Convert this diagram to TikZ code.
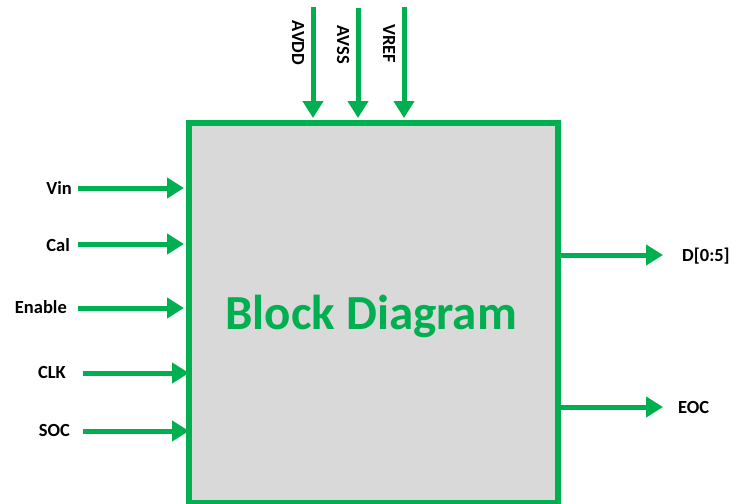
\documentclass[tikz,border=0pt]{standalone}
\usepackage{fontspec}
\setmainfont{Carlito}
\usetikzlibrary{arrows.meta}
\definecolor{ogreen}{HTML}{00B050}
\definecolor{ogray}{HTML}{D9D9D9}
\begin{document}
\begin{tikzpicture}[x=1pt,y=-1pt,
  sig/.style={draw=ogreen,line width=5pt,-{Triangle[length=17pt,width=20pt]}},
  lbl/.style={font=\fontsize{18.5}{20}\selectfont\bfseries,inner sep=0pt,text=black},
  vlbl/.style={lbl,rotate=-90}]
\useasboundingbox (0,0) rectangle (743,503);
\node[draw=ogreen,fill=ogray,line width=6pt,minimum width=369pt,minimum height=380pt,inner sep=0pt,anchor=north west] (blk) at (186,120) {};
\node[text=ogreen,font=\fontsize{49}{52}\selectfont\bfseries] (title) at (371,316) {Block Diagram};
% inputs
\node[lbl,anchor=east] (vin) at (72,188) {Vin};
\node[lbl,anchor=east] (cal) at (70,245) {Cal};
\node[lbl,anchor=east] (en) at (67,307) {Enable};
\node[lbl,anchor=east] (clk) at (66,372) {CLK};
\node[lbl,anchor=east] (soc) at (70,430) {SOC};
\coordinate (vinS) at (78,188); \coordinate (vinE) at (184,188);
\coordinate (calS) at (78,244); \coordinate (calE) at (184,244);
\coordinate (enS) at (78,308); \coordinate (enE) at (184,308);
\coordinate (clkS) at (83,373); \coordinate (clkE) at (189,373);
\coordinate (socS) at (83,431); \coordinate (socE) at (189,431);
\draw[sig] (vinS) -- (vinE);
\draw[sig] (calS) -- (calE);
\draw[sig] (enS) -- (enE);
\draw[sig] (clkS) -- (clkE);
\draw[sig] (socS) -- (socE);
% top
\coordinate (avddS) at (313,7); \coordinate (avddE) at (313,118);
\coordinate (avssS) at (358,8); \coordinate (avssE) at (358,118);
\coordinate (vrefS) at (404,7); \coordinate (vrefE) at (404,118);
\draw[sig] (avddS) -- (avddE);
\draw[sig] (avssS) -- (avssE);
\draw[sig] (vrefS) -- (vrefE);
\node[vlbl] (avdd) at (298,43) {AVDD};
\node[vlbl] (avss) at (343,45) {AVSS};
\node[vlbl] (vref) at (389,44) {VREF};
% outputs
\coordinate (dS) at (557,255); \coordinate (dE) at (663,255);
\coordinate (eS) at (557,407); \coordinate (eE) at (663,407);
\draw[sig] (dS) -- (dE);
\draw[sig] (eS) -- (eE);
\node[lbl,anchor=west] (d) at (682,256) {D[0:5]};
\node[lbl,anchor=west] (eoc) at (678,407) {EOC};
\end{tikzpicture}
\end{document}
